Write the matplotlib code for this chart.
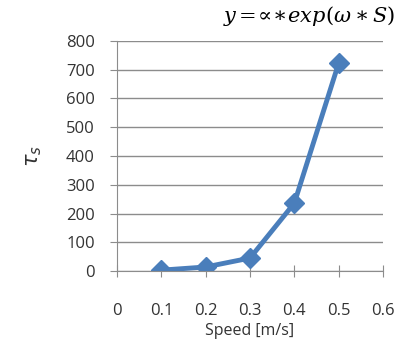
import matplotlib.pyplot as plt

# data
speed = [0.1, 0.2, 0.3, 0.4, 0.5]
tau_s = [3, 14, 45, 236, 723]
x_ticks = [0, 0.1, 0.2, 0.3, 0.4, 0.5, 0.6]
y_ticks = [0, 100, 200, 300, 400, 500, 600, 700, 800]

plt.rcParams['font.family'] = ['Open Sans', 'DejaVu Sans']

fig = plt.figure(figsize=(4.14, 3.55), dpi=100)
ax = fig.add_axes([117 / 414, 1 - 271 / 355, 266 / 414, 230 / 355])

ax.plot(speed, tau_s, color="#4a7ebb", lw=3.5, marker="D", ms=10,
        solid_joinstyle="miter")

ax.set_xlim(0, 0.6)
ax.set_ylim(0, 800)
ax.set_xticks(x_ticks)
ax.set_xticklabels(["0" if v == 0 else str(v) for v in x_ticks])
ax.set_yticks(y_ticks)
ax.grid(axis="y", color="#8c8c8c", lw=1)
ax.set_axisbelow(True)
for s in ["top", "right"]:
    ax.spines[s].set_visible(False)
for s in ["left", "bottom"]:
    ax.spines[s].set_color("#8c8c8c")
ax.tick_params(axis="y", direction="out", length=5, color="#8c8c8c",
               labelsize=12, labelcolor="#333333", pad=11)
ax.tick_params(axis="x", direction="inout", length=8, color="#8c8c8c",
               labelsize=12, labelcolor="#333333", pad=19)

ax.set_xlabel("Speed [m/s]", fontsize=11.5, color="#333333", labelpad=3)
ax.set_ylabel(r"$\tau_s$", fontsize=15, color="#333333", labelpad=16)

# title formula, tightened spacing around the relation signs
fig.text(0.955, 0.955, r"$y\;\!\!=\!\!\propto\!\!\ast\! exp(\omega\ast S)$",
         ha="right", va="center", fontsize=15,
         math_fontfamily="dejavuserif")

fig.savefig("out.png", dpi=100)
